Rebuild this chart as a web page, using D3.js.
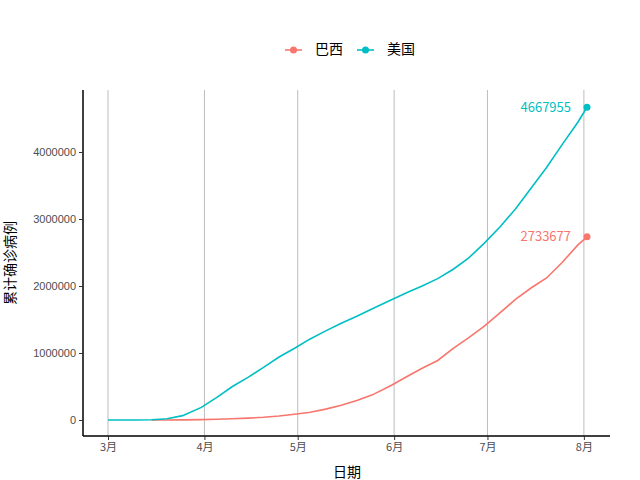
<!DOCTYPE html>
<html><head><meta charset="utf-8">
<script src="https://cdn.jsdelivr.net/npm/d3@7"></script>
<style>body{margin:0;background:#fff}text{font-family:"Noto Sans CJK SC","DejaVu Sans",sans-serif}</style>
</head><body><div class="container"></div>
<script>
const usDates = ["2020-03-01","2020-03-10","2020-03-15","2020-03-20","2020-03-25","2020-03-31","2020-04-05","2020-04-10","2020-04-15","2020-04-20","2020-04-25","2020-04-30","2020-05-05","2020-05-10","2020-05-15","2020-05-20","2020-05-25","2020-05-31","2020-06-05","2020-06-10","2020-06-15","2020-06-20","2020-06-25","2020-06-30","2020-07-05","2020-07-10","2020-07-15","2020-07-20","2020-07-25","2020-07-30","2020-08-02"];
const usCases = [75,1000,3500,19000,65000,188000,337000,500000,637000,785000,940000,1070000,1210000,1330000,1445000,1550000,1660000,1790000,1900000,2000000,2110000,2250000,2420000,2640000,2880000,3150000,3460000,3770000,4110000,4440000,4667955];
const brDates = ["2020-03-15","2020-03-20","2020-03-25","2020-03-31","2020-04-05","2020-04-10","2020-04-15","2020-04-20","2020-04-25","2020-04-30","2020-05-05","2020-05-10","2020-05-15","2020-05-20","2020-05-25","2020-05-31","2020-06-05","2020-06-10","2020-06-15","2020-06-20","2020-06-25","2020-06-30","2020-07-05","2020-07-10","2020-07-15","2020-07-20","2020-07-25","2020-07-30","2020-08-02"];
const brCases = [200,900,2400,5700,11000,19000,28000,40000,59000,85000,115000,162000,220000,291000,375000,514000,645000,772000,888000,1070000,1230000,1400000,1600000,1800000,1970000,2120000,2350000,2610000,2733677];
const seriesNames = ["巴西","美国"];
const colors = ["#F8766D","#00BFC4"];
const yTicks = [0,1000000,2000000,3000000,4000000];
const monthTicks = ["2020-03-01","2020-04-01","2020-05-01","2020-06-01","2020-07-01","2020-08-01"];
const monthLabels = ["3月","4月","5月","6月","7月","8月"];

const w = 640, h = 480;
const parse = d3.timeParse("%Y-%m-%d");
const series = [
  {name: seriesNames[0], color: colors[0], pts: brDates.map((d,i)=>({x: parse(d), y: brCases[i]}))},
  {name: seriesNames[1], color: colors[1], pts: usDates.map((d,i)=>({x: parse(d), y: usCases[i]}))}
];
const xScale = d3.scaleTime().domain([parse("2020-03-01"), parse("2020-08-02")]).range([108, 587]);
const yScale = d3.scaleLinear().domain([0, 4000000]).range([420, 152]);

const svg = d3.select(".container").append("svg").attr("width", w).attr("height", h);

// vertical grid
svg.append("g").selectAll("line").data(monthTicks).enter().append("line")
  .attr("x1", d=>xScale(parse(d))).attr("x2", d=>xScale(parse(d)))
  .attr("y1", 90).attr("y2", 436).attr("stroke", "#bdbdbd").attr("stroke-width", 1);

const line = d3.line().x(d=>xScale(d.x)).y(d=>yScale(d.y));
series.forEach(s => {
  svg.append("path").datum(s.pts).attr("d", line).attr("fill","none")
    .attr("stroke", s.color).attr("stroke-width", 1.6);
  const last = s.pts[s.pts.length-1];
  svg.append("circle").attr("cx", xScale(last.x)).attr("cy", yScale(last.y)).attr("r", 3.5).attr("fill", s.color);
  svg.append("text").attr("x", xScale(last.x)-16).attr("y", yScale(last.y)+1)
    .attr("text-anchor","end").attr("dominant-baseline","middle")
    .attr("font-size", 13).attr("fill", s.color).text(last.y);
});

const xAxis = d3.axisBottom(xScale).tickValues(monthTicks.map(parse))
  .tickFormat((d,i)=>monthLabels[i]).tickSize(4).tickSizeOuter(0);
const yAxis = d3.axisLeft(yScale).tickValues(yTicks).tickFormat(d3.format("d")).tickSize(4).tickSizeOuter(0);

const gx = svg.append("g").attr("transform","translate(0,436)").call(xAxis);
gx.select(".domain").attr("d","M83,0H610").attr("stroke","#000").attr("stroke-width",1.5);
const gy = svg.append("g").attr("transform","translate(83,0)").call(yAxis);
gy.select(".domain").attr("d","M0,90V436").attr("stroke","#000").attr("stroke-width",1.5);
[gx, gy].forEach(g => {
  g.selectAll(".tick line").attr("stroke","#333");
  g.selectAll(".tick text").attr("fill","#4d4d4d").attr("font-size",11)
    .style("font-family","'Liberation Sans',Arial,sans-serif");
});
gx.selectAll(".tick text").style("font-family","'Noto Sans CJK SC',sans-serif");

svg.append("text").attr("x", 347).attr("y", 477).attr("text-anchor","middle").attr("font-size",14).text("日期");
svg.append("text").attr("transform","translate(15,263) rotate(-90)").attr("text-anchor","middle").attr("font-size",14).text("累计确诊病例");

// legend
const leg = svg.append("g").attr("transform","translate(285,50)");
series.forEach((s,i) => {
  const g = leg.append("g").attr("transform", `translate(${i*72},0)`);
  g.append("line").attr("x1",0).attr("x2",17).attr("stroke",s.color).attr("stroke-width",1.6);
  g.append("circle").attr("cx",8.5).attr("r",3.5).attr("fill",s.color);
  g.append("text").attr("x",30).attr("dominant-baseline","middle").attr("font-size",14).text(s.name);
});
</script></body></html>
